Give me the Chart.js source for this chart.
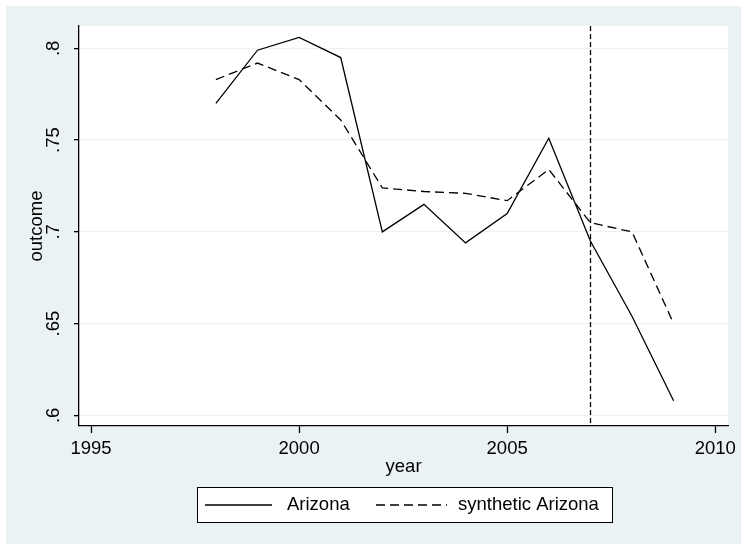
<!DOCTYPE html>
<html>
<head>
<meta charset="utf-8">
<script src="https://cdn.jsdelivr.net/npm/chart.js@4.4.0/dist/chart.umd.min.js"></script>
<style>
  html, body { margin: 0; padding: 0; background: #fff; }
  canvas { display: block; }
</style>
</head>
<body>
<canvas id="chart" width="741" height="544"></canvas>
<script>
// Données
const years = [1998, 1999, 2000, 2001, 2002, 2003, 2004, 2005, 2006, 2007, 2008, 2009];
const arizona = [0.770, 0.799, 0.806, 0.795, 0.700, 0.715, 0.694, 0.710, 0.751, 0.695, 0.654, 0.608];
const synthetic = [0.783, 0.792, 0.783, 0.761, 0.724, 0.722, 0.721, 0.717, 0.734, 0.705, 0.700, 0.650];
const xTicks = [1995, 2000, 2005, 2010];
const yTicks = [0.6, 0.65, 0.7, 0.75, 0.8];
const treatYear = 2007;

const BG = '#eaf2f3';
const FONT = { family: '"Liberation Sans", Arial, sans-serif', size: 18.5 };

const fmt = v => String(Math.round(v * 100) / 100).replace(/^0/, '');

// Fond gris-bleu façon Stata
const backgroundPlugin = {
  id: 'background',
  beforeDraw(chart) {
    const { ctx, chartArea } = chart;
    ctx.save();
    ctx.fillStyle = '#fff';
    ctx.fillRect(0, 0, chart.width, chart.height);
    ctx.fillStyle = BG;
    ctx.fillRect(6, 6, chart.width - 6, chart.height - 6);
    ctx.fillStyle = '#fff';
    ctx.fillRect(chartArea.left, chartArea.top, chartArea.right - chartArea.left, chartArea.bottom - chartArea.top);
    ctx.restore();
  }
};

// Ligne verticale en pointillés à l'année du traitement
const treatLinePlugin = {
  id: 'treatLine',
  afterDatasetsDraw(chart) {
    const { ctx, chartArea, scales } = chart;
    const x = Math.round(scales.x.getPixelForValue(treatYear)) + 0.5;
    ctx.save();
    ctx.strokeStyle = '#000';
    ctx.lineWidth = 1.3;
    ctx.setLineDash([5, 3]);
    ctx.beginPath();
    ctx.moveTo(x, chartArea.top);
    ctx.lineTo(x, chartArea.bottom);
    ctx.stroke();
    ctx.restore();
  }
};

// Étiquettes de l'axe Y tournées à la verticale, centrées sur les graduations
const yLabelsPlugin = {
  id: 'yLabels',
  afterDraw(chart) {
    const { ctx, scales } = chart;
    ctx.save();
    ctx.font = FONT.size + 'px ' + FONT.family;
    ctx.fillStyle = '#000';
    ctx.textAlign = 'center';
    ctx.textBaseline = 'middle';
    yTicks.forEach(v => {
      const py = scales.y.getPixelForValue(v);
      ctx.save();
      ctx.translate(54, py);
      ctx.rotate(-Math.PI / 2);
      ctx.fillText(fmt(v), 0, 0);
      ctx.restore();
    });
    ctx.restore();
  }
};

// Légende encadrée en bas
const legendBoxPlugin = {
  id: 'legendBox',
  afterDraw(chart) {
    const { ctx } = chart;
    const ds = chart.data.datasets;
    const boxX = 197.5, boxY = 487.5, boxW = 415, boxH = 35;
    const midY = boxY + boxH / 2;
    ctx.save();
    ctx.fillStyle = '#fff';
    ctx.fillRect(boxX, boxY, boxW, boxH);
    ctx.strokeStyle = '#000';
    ctx.lineWidth = 1;
    ctx.strokeRect(boxX, boxY, boxW, boxH);
    ctx.font = FONT.size + 'px ' + FONT.family;
    ctx.textBaseline = 'middle';
    ctx.fillStyle = '#000';
    const items = [
      { x0: 205, x1: 272, tx: 287 },
      { x0: 376, x1: 447, tx: 458 }
    ];
    items.forEach((it, i) => {
      ctx.lineWidth = 1.3;
      ctx.setLineDash(ds[i].borderDash || []);
      ctx.beginPath();
      ctx.moveTo(it.x0, midY);
      ctx.lineTo(it.x1, midY);
      ctx.stroke();
      ctx.setLineDash([]);
      ctx.fillText(ds[i].label, it.tx, midY);
    });
    ctx.restore();
  }
};

new Chart(document.getElementById('chart'), {
  type: 'line',
  data: {
    datasets: [
      {
        label: 'Arizona',
        data: years.map((y, i) => ({ x: y, y: arizona[i] })),
        borderColor: '#000',
        borderWidth: 1.3,
        pointRadius: 0,
        tension: 0,
        fill: false
      },
      {
        label: 'synthetic Arizona',
        data: years.map((y, i) => ({ x: y, y: synthetic[i] })),
        borderColor: '#000',
        borderWidth: 1.3,
        borderDash: [9, 5],
        pointRadius: 0,
        tension: 0,
        fill: false
      }
    ]
  },
  options: {
    responsive: false,
    animation: false,
    events: [],
    layout: { padding: { top: 26, right: 11, left: 0, bottom: 0 } },
    plugins: { legend: { display: false }, tooltip: { enabled: false } },
    scales: {
      x: {
        type: 'linear',
        min: 1994.71,
        max: 2010.31,
        afterBuildTicks: s => { s.ticks = xTicks.map(v => ({ value: v })); },
        afterFit: s => { s.height = 118; },
        grid: { drawOnChartArea: false, tickLength: 7, tickColor: '#000', tickWidth: 1.3 },
        border: { color: '#000', width: 1.3 },
        ticks: { color: '#000', font: FONT, padding: 5, maxRotation: 0, callback: v => String(v) },
        title: { display: true, text: 'year', color: '#000', font: FONT, padding: { top: 0, bottom: 66 } }
      },
      y: {
        min: 0.5942,
        max: 0.8122,
        afterBuildTicks: s => { s.ticks = yTicks.map(v => ({ value: v })); },
        afterFit: s => { s.width = 79; },
        grid: { color: BG, lineWidth: 1.3, tickLength: 5, tickColor: '#000', tickWidth: 1.3 },
        border: { color: '#000', width: 1.3 },
        ticks: { display: false },
        title: { display: true, text: 'outcome', color: '#000', font: FONT, padding: { top: 26, bottom: 0 } }
      }
    }
  },
  plugins: [backgroundPlugin, treatLinePlugin, yLabelsPlugin, legendBoxPlugin]
});
</script>
</body>
</html>
